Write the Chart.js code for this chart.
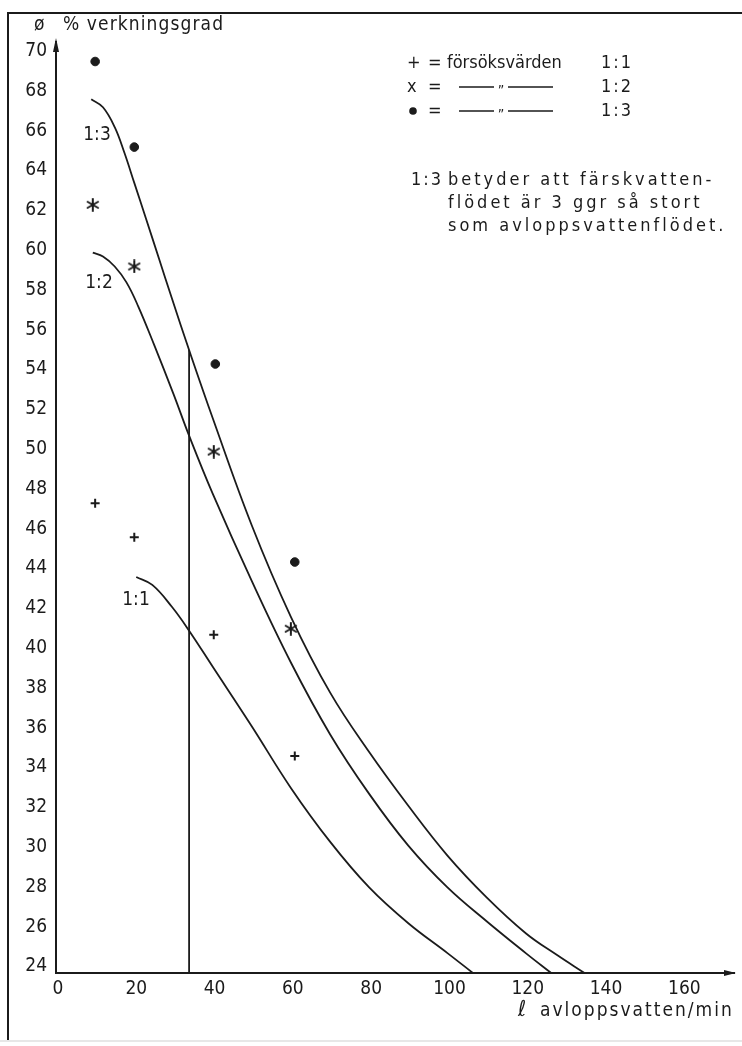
<!DOCTYPE html>
<html>
<head>
<meta charset="utf-8">
<script src="https://cdn.jsdelivr.net/npm/chart.js@4.4.1/dist/chart.umd.min.js"></script>
<style>
  html, body { margin: 0; padding: 0; background: #fff; }
  canvas { display: block; }
</style>
</head>
<body>
<canvas id="chart" width="742" height="1046"></canvas>
<script>
// Axes
const xTicks = [0, 20, 40, 60, 80, 100, 120, 140, 160];
const yTicks = [24, 26, 28, 30, 32, 34, 36, 38, 40, 42, 44, 46, 48, 50, 52, 54, 56, 58, 60, 62, 64, 66, 68, 70];

// Kurvor
const curve13X = [9, 12, 15, 17.5, 20, 23, 26.3, 29.6, 34, 40, 50, 60, 70, 80, 90, 100, 110, 120, 128, 135];
const curve13Y = [67.9, 67.5, 66.5, 65.2, 63.7, 61.9, 59.9, 57.9, 55.3, 51.9, 46.5, 41.9, 38.1, 35.1, 32.4, 29.9, 27.8, 26.0, 24.9, 24];
const curve12X = [9.4, 12, 15, 18, 21, 25, 30, 34, 40, 50, 60, 70, 80, 90, 100, 110, 120, 126.5];
const curve12Y = [60.2, 60.0, 59.5, 58.7, 57.5, 55.6, 53.1, 51.0, 48.1, 43.7, 39.6, 36.0, 33.0, 30.4, 28.3, 26.6, 25.0, 24];
const curve11X = [20.5, 24.6, 29.6, 34, 40, 50, 60, 70, 80, 90, 100, 106.5];
const curve11Y = [43.9, 43.5, 42.4, 41.2, 39.4, 36.4, 33.3, 30.6, 28.3, 26.5, 25.0, 24];

// Lodrät hjälplinje
const markerLineX = [34, 34];
const markerLineY = [24, 55.3];

// Försöksvärden
const trial11X = [10, 20, 40.3, 61];
const trial11Y = [47.6, 45.9, 41.0, 34.9];
const trial12X = [9.4, 20, 40.3, 60];
const trial12Y = [62.6, 59.5, 50.2, 41.3];
const trial13X = [10, 20, 40.7, 61];
const trial13Y = [69.8, 65.5, 54.6, 44.65];

const ink = "#1b1b1b";
const fontFamily = '"DejaVu Sans Condensed", "Liberation Sans", sans-serif';

// sexuddig asterisk som punktstil
function makeAsterisk(size, width) {
  const cv = document.createElement("canvas");
  cv.width = size;
  cv.height = size;
  const g = cv.getContext("2d");
  const r = size / 2 - 1;
  g.strokeStyle = ink;
  g.lineWidth = width;
  g.lineCap = "round";
  g.translate(size / 2, size / 2);
  [90, 30, 150].forEach(deg => {
    const t = deg * Math.PI / 180;
    g.beginPath();
    g.moveTo(-r * Math.cos(t), -r * Math.sin(t));
    g.lineTo(r * Math.cos(t), r * Math.sin(t));
    g.stroke();
  });
  return cv;
}

function toPoints(xs, ys) {
  return xs.map((x, i) => ({ x: x, y: ys[i] }));
}

function curve(xs, ys) {
  return {
    type: "line",
    data: toPoints(xs, ys),
    borderColor: ink,
    borderWidth: 1.8,
    pointRadius: 0,
    fill: false,
    tension: 0.4,
    clip: false
  };
}

function trials(xs, ys, style, radius, width) {
  return {
    type: "scatter",
    data: toPoints(xs, ys),
    pointStyle: style,
    pointRadius: radius,
    pointBorderWidth: width,
    borderColor: ink,
    backgroundColor: ink,
    showLine: false,
    clip: false
  };
}

function spaced(c, text, x, y, spacing) {
  c.letterSpacing = spacing + "px";
  c.fillText(text, x, y);
  c.letterSpacing = "0px";
}

// Ritar ram, pilar och texter
const extras = {
  id: "extras",
  beforeDraw(chart) {
    const c = chart.ctx;
    c.save();
    c.fillStyle = "#fff";
    c.fillRect(0, 0, chart.width, chart.height);
    c.restore();
  },
  afterDraw(chart) {
    const c = chart.ctx;
    const a = chart.chartArea;
    c.save();
    // ram
    c.strokeStyle = ink;
    c.lineWidth = 2;
    c.beginPath();
    c.moveTo(8, 1040);
    c.lineTo(8, 13);
    c.lineTo(742, 13);
    c.stroke();
    c.strokeStyle = "#cfcfcf";
    c.lineWidth = 1;
    c.beginPath();
    c.moveTo(0, 1041);
    c.lineTo(742, 1041);
    c.stroke();

    // pilar
    c.fillStyle = ink;
    c.beginPath();
    c.moveTo(a.left, a.top - 4);
    c.lineTo(a.left - 3, a.top + 10);
    c.lineTo(a.left + 3, a.top + 10);
    c.closePath();
    c.fill();
    c.beginPath();
    c.moveTo(a.right + 2, a.bottom);
    c.lineTo(a.right - 10, a.bottom - 3);
    c.lineTo(a.right - 10, a.bottom + 3);
    c.closePath();
    c.fill();

    c.fillStyle = ink;
    c.textBaseline = "middle";
    c.font = "19px " + fontFamily;

    // axeltitlar
    c.textAlign = "left";
    c.fillText("ø", 34, 25);
    spaced(c, "% verkningsgrad", 63, 25, 1.1);
    spaced(c, "avloppsvatten/min", 540, 1011, 2);
    c.font = "italic 22px " + fontFamily;
    c.fillText("ℓ", 518, 1010);

    // kurvetiketter
    c.font = "19px " + fontFamily;
    c.textAlign = "center";
    c.fillText("1:3", 97, 135);
    c.fillText("1:2", 99, 283);
    c.fillText("1:1", 136, 600);

    // förklaring
    c.textAlign = "left";
    c.font = "18px " + fontFamily;
    const rows = [63, 87, 111];
    c.fillText("+", 407, rows[0]);
    c.fillText("x", 407, rows[1]);
    c.beginPath();
    c.arc(413, rows[2], 3.8, 0, Math.PI * 2);
    c.fill();
    rows.forEach(r => c.fillText("=", 428, r));
    c.fillText("försöksvärden", 447, rows[0]);
    spaced(c, "1:1", 601, rows[0], 2);
    spaced(c, "1:2", 601, rows[1], 2);
    spaced(c, "1:3", 601, rows[2], 2);
    c.lineWidth = 1.6;
    c.strokeStyle = ink;
    [rows[1], rows[2]].forEach(r => {
      c.beginPath();
      c.moveTo(459, r);
      c.lineTo(494, r);
      c.moveTo(508, r);
      c.lineTo(553, r);
      c.stroke();
      c.font = "14px " + fontFamily;
      c.textAlign = "center";
      c.fillText("\u201D", 501, r + 4);
      c.textAlign = "left";
      c.font = "18px " + fontFamily;
    });

    spaced(c, "1:3", 411, 180, 2);
    spaced(c, "betyder att färskvatten-", 448, 180, 3);
    spaced(c, "flödet är 3 ggr så stort", 448, 203, 3);
    spaced(c, "som avloppsvattenflödet.", 448, 226, 3);
    c.restore();
  }
};

const ctx = document.getElementById("chart").getContext("2d");
new Chart(ctx, {
  data: {
    datasets: [
      curve(curve13X, curve13Y),
      curve(curve12X, curve12Y),
      curve(curve11X, curve11Y),
      curve(markerLineX, markerLineY),
      trials(trial11X, trial11Y, "cross", 4.5, 2),
      trials(trial12X, trial12Y, makeAsterisk(14, 2), 7, 1),
      trials(trial13X, trial13Y, "circle", 4.3, 1)
    ]
  },
  options: {
    responsive: false,
    animation: false,
    devicePixelRatio: 1,
    layout: { padding: { top: 42, right: 2, left: 0, bottom: 0 } },
    plugins: {
      legend: { display: false },
      tooltip: { enabled: false }
    },
    scales: {
      x: {
        type: "linear",
        min: 0,
        max: 173.2,
        grid: { display: false, drawTicks: false },
        border: { color: ink, width: 2 },
        ticks: {
          color: ink,
          padding: 5,
          labelOffset: 2,
          font: { family: fontFamily, size: 19 }
        },
        afterBuildTicks: s => { s.ticks = xTicks.map(v => ({ value: v })); },
        afterFit: s => { s.height = 73; }
      },
      y: {
        type: "linear",
        min: 24,
        max: 70.78,
        grid: { display: false, drawTicks: false },
        border: { color: ink, width: 2 },
        ticks: {
          color: ink,
          padding: 9,
          labelOffset: -6.5,
          font: { family: fontFamily, size: 19 }
        },
        afterBuildTicks: s => { s.ticks = yTicks.map(v => ({ value: v })); },
        afterFit: s => { s.width = 56; }
      }
    }
  },
  plugins: [extras]
});
</script>
</body>
</html>
